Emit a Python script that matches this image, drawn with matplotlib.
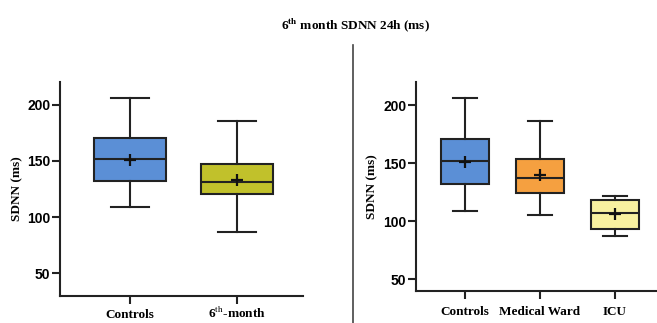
import matplotlib
matplotlib.use("Agg")
import matplotlib.pyplot as plt
from matplotlib.lines import Line2D

plt.rcParams['mathtext.fontset'] = 'stix'

# ---- data ----
left_labels = ["Controls", "6$^{\\mathrm{th}}$-month"]
left_whislo = [109, 87]
left_q1 = [132.4, 121]
left_med = [151.2, 131]
left_q3 = [170.2, 146.8]
left_whishi = [205.6, 185.5]
left_mean = [151, 132.6]
left_colors = ["#5b8fd6", "#c1c12b"]

right_labels = ["Controls", "Medical Ward", "ICU"]
right_whislo = [109.1, 105.1, 87.1]
right_q1 = [132.3, 124, 93.7]
right_med = [151.7, 136.9, 107.1]
right_q3 = [170.6, 153.4, 118.6]
right_whishi = [206.3, 186, 122]
right_mean = [151, 140, 106.3]
right_colors = ["#5b8fd6", "#f5a040", "#f8f1a0"]

yticks = [50, 100, 150, 200]

W, H = 657, 323
fig = plt.figure(figsize=(W / 100, H / 100), dpi=100)


def make_ax(x0, x1, ytop, ybot):
    return fig.add_axes([x0 / W, (H - ybot) / H, (x1 - x0) / W, (ybot - ytop) / H])


def draw(ax, labels, wl, q1, med, q3, wh, mean, colors, width, capw, xlim, ylim, xpad):
    stats = []
    for i in range(len(labels)):
        stats.append(dict(whislo=wl[i], q1=q1[i], med=med[i], q3=q3[i], whishi=wh[i],
                          mean=mean[i], fliers=[]))
    lw = 1.5
    bp = ax.bxp(stats, positions=list(range(len(labels))), widths=width,
                capwidths=capw, patch_artist=True, showmeans=True, showfliers=False,
                boxprops=dict(linewidth=lw, edgecolor='#222222'),
                medianprops=dict(color='#222222', linewidth=lw),
                whiskerprops=dict(color='#222222', linewidth=lw),
                capprops=dict(color='#222222', linewidth=lw),
                meanprops=dict(marker='+', markersize=9, markeredgewidth=1.6,
                               markeredgecolor='#111111'))
    for patch, c in zip(bp['boxes'], colors):
        patch.set_facecolor(c)
    ax.set_xlim(*xlim)
    ax.set_ylim(*ylim)
    ax.set_yticks(yticks)
    ax.set_xticks(list(range(len(labels))))
    ax.set_xticklabels(labels, fontfamily='Liberation Serif', fontweight='bold', fontsize=9.5)
    for t in ax.get_xticklabels():
        t.set_verticalalignment('baseline')
    for t in ax.get_yticklabels():
        t.set_fontfamily('Liberation Sans')
        t.set_fontweight('bold')
        t.set_fontsize(10)
    ax.tick_params(axis='both', direction='out', length=6, width=1.5, color='#222222')
    ax.tick_params(axis='x', pad=xpad)
    ax.tick_params(axis='y', pad=1)
    for s in ['top', 'right']:
        ax.spines[s].set_visible(False)
    for s in ['left', 'bottom']:
        ax.spines[s].set_linewidth(1.5)
        ax.spines[s].set_color('#222222')
    ax.set_ylabel("SDNN (ms)", fontfamily='Liberation Serif', fontweight='bold', fontsize=9.5)


axL = make_ax(60, 303, 82, 296)
draw(axL, left_labels, left_whislo, left_q1, left_med, left_q3, left_whishi, left_mean,
     left_colors, 0.68, 0.36, (-0.654, 1.617), (30, 220), 9.5)
axL.yaxis.set_label_coords(-0.15, 0.5)

axR = make_ax(416, 657, 82, 291)
draw(axR, right_labels, right_whislo, right_q1, right_med, right_q3, right_whishi, right_mean,
     right_colors, 0.65, 0.33, (-0.653, 2.56), (40, 220), 11)
axR.yaxis.set_label_coords(-0.158, 0.5)

# separator line
fig.add_artist(Line2D([353 / W, 353 / W], [0, (H - 45) / H], color='#444444', linewidth=1.2))

fig.text(355 / W, (H - 25) / H, "6$^{\\mathbf{th}}$ month SDNN 24h (ms)", ha='center', va='center',
         fontfamily='Liberation Serif', fontweight='bold', fontsize=9.5)

fig.savefig("out.png", dpi=100)
